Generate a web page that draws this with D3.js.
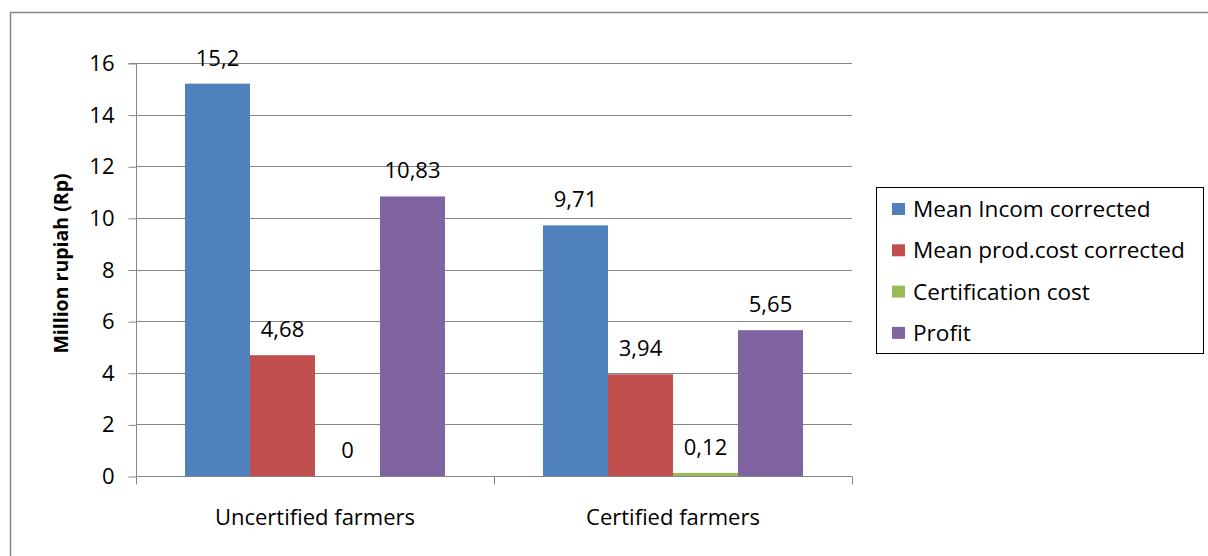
<!DOCTYPE html>
<html><head><meta charset="utf-8">
<script src="https://cdn.jsdelivr.net/npm/d3@7"></script>
<style>body{margin:0;background:#fff;} svg{display:block;} text{font-family:"Open Sans",sans-serif;fill:#000;}</style>
</head><body>
<svg id="c" width="1208" height="556"></svg>
<script>
const categories = ["Uncertified farmers", "Certified farmers"];
const seriesNames = ["Mean Incom corrected", "Mean prod.cost corrected", "Certification cost", "Profit"];
const meanIncome = [15.2, 9.71];
const meanProdCost = [4.68, 3.94];
const certificationCost = [0, 0.12];
const profit = [10.83, 5.65];
const valueLabels = [["15,2","9,71"],["4,68","3,94"],["0","0,12"],["10,83","5,65"]];
const yTicks = [0,2,4,6,8,10,12,14,16];
const colors = ["#4F81BD","#C0504D","#9BBB59","#8064A2"];

const series = [meanIncome, meanProdCost, certificationCost, profit];
const svg = d3.select("#c");
const m = {l:136, r:852, t:63, b:476};
const FONT = "'Open Sans',sans-serif";
const FS = "22px";

svg.append("rect").attr("x",10.5).attr("y",12.5).attr("width",1210).attr("height",560)
  .attr("fill","none").attr("stroke","#868686").attr("stroke-width",1.5);

const y = d3.scaleLinear().domain([0,16]).range([m.b,m.t]);
const x0 = d3.scaleBand().domain(categories).range([m.l,m.r]).paddingInner(0).paddingOuter(0);
const x1 = d3.scaleBand().domain(d3.range(4)).range([49, x0.bandwidth()-49]);

svg.append("g").selectAll("line").data(yTicks.slice(1)).join("line")
  .attr("x1",m.l).attr("x2",m.r).attr("y1",d=>Math.round(y(d))+0.5).attr("y2",d=>Math.round(y(d))+0.5)
  .attr("stroke","#868686").attr("stroke-width",1);

const ya = svg.append("g").attr("transform",`translate(${m.l+0.5},0.5)`)
  .call(d3.axisLeft(y).tickValues(yTicks).tickSize(8).tickPadding(14).tickFormat(d3.format("d")));
ya.select(".domain").attr("stroke","#868686").attr("d",`M-8,${Math.round(m.t)}H0V${m.b}`);
ya.selectAll(".tick line").attr("stroke","#868686");
ya.selectAll(".tick text").style("font-size",FS).attr("fill","#000").style("font-family",FONT);

const g = svg.append("g");
categories.forEach((c,ci)=>{
  series.forEach((s,si)=>{
    const bx = x0(c)+x1(si);
    g.append("rect").attr("x",bx).attr("width",x1.bandwidth())
      .attr("y",y(s[ci])).attr("height",y(0)-y(s[ci])).attr("fill",colors[si]);
    g.append("text").attr("x",bx+x1.bandwidth()/2).attr("y",y(s[ci])-18)
      .attr("text-anchor","middle").style("font-size",FS).text(valueLabels[si][ci]);
  });
});

const xa = svg.append("g").attr("transform",`translate(0,${m.b+0.5})`);
xa.append("line").attr("x1",m.l).attr("x2",m.r).attr("stroke","#868686");
[m.l, x0(categories[1]), m.r].forEach(v=>{
  xa.append("line").attr("x1",Math.round(v)+0.5).attr("x2",Math.round(v)+0.5).attr("y1",0).attr("y2",8).attr("stroke","#868686");
});
categories.forEach(c=>{
  svg.append("text").attr("x",x0(c)+x0.bandwidth()/2).attr("y",525).attr("text-anchor","middle")
    .style("font-size",FS).text(c);
});

svg.append("text").attr("transform",`translate(68,${(m.t+m.b)/2 - 6}) rotate(-90)`)
  .attr("text-anchor","middle").style("font-size","19.5px").style("font-weight","bold").text("Million rupiah (Rp)");

const lg = svg.append("g");
lg.append("rect").attr("x",876.5).attr("y",187.5).attr("width",327).attr("height",166)
  .attr("fill","#fff").attr("stroke","#000").attr("stroke-width",1);
seriesNames.forEach((n,i)=>{
  const cy = 209 + i*41.3;
  lg.append("rect").attr("x",892).attr("y",cy-6).attr("width",13).attr("height",12).attr("fill",colors[i]);
  lg.append("text").attr("x",913).attr("y",cy+8).style("font-size","22.6px").text(n);
});
</script>
</body></html>
